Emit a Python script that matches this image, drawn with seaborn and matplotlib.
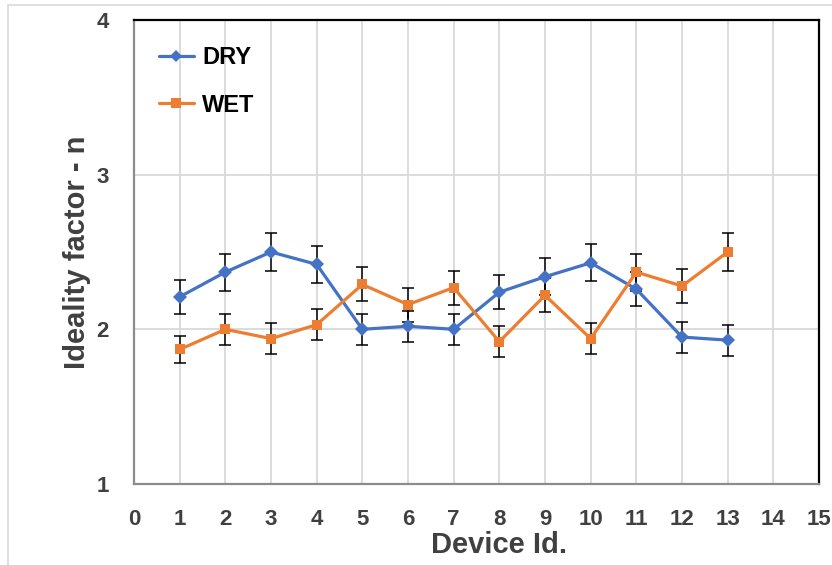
import matplotlib
matplotlib.use("Agg")
import matplotlib.pyplot as plt
from matplotlib.patches import Rectangle
import numpy as np
import pandas as pd
import seaborn as sns

# Ideality factor per device, measured dry and wet
device_ids = [1, 2, 3, 4, 5, 6, 7, 8, 9, 10, 11, 12, 13]
dry_n = [2.21, 2.37, 2.50, 2.42, 2.00, 2.02, 2.00, 2.24, 2.34, 2.43, 2.26, 1.95, 1.93]
wet_n = [1.87, 2.00, 1.94, 2.03, 2.29, 2.16, 2.27, 1.92, 2.22, 1.94, 2.37, 2.28, 2.50]
dry_err = [0.11, 0.12, 0.125, 0.12, 0.10, 0.10, 0.10, 0.11, 0.12, 0.12, 0.11, 0.10, 0.10]
wet_err = [0.09, 0.10, 0.10, 0.10, 0.11, 0.11, 0.11, 0.10, 0.11, 0.10, 0.12, 0.11, 0.125]
series_names = ["DRY", "WET"]
x_ticks = list(range(0, 16))
y_ticks = [1, 2, 3, 4]

BLUE = "#4472C4"
ORANGE = "#ED7D31"
TEXT = "#404040"

sns.set_theme(style="white")
plt.rcParams["font.family"] = ["Liberation Sans", "DejaVu Sans"]

df = pd.DataFrame({
    "Device": device_ids * 2,
    "n": dry_n + wet_n,
    "Condition": [series_names[0]] * len(device_ids) + [series_names[1]] * len(device_ids),
})

fig = plt.figure(figsize=(8.32, 5.65), dpi=100)
ax = fig.add_axes([134 / 832, 1 - 484 / 565, (819 - 134) / 832, (484 - 20) / 565])

# light outer frame of the figure
fig.patches.append(Rectangle((8 / 832, -0.1), 1.2, 1 - 5 / 565 + 0.1, transform=fig.transFigure,
                             fill=False, edgecolor="#d9d9d9", linewidth=1.2, zorder=0))

# error bars sit underneath the lines and markers
ax.errorbar(device_ids, dry_n, yerr=dry_err, fmt="none", ecolor="black",
            elinewidth=1.1, capsize=4.5, capthick=1.1, zorder=2)
ax.errorbar(device_ids, wet_n, yerr=wet_err, fmt="none", ecolor="black",
            elinewidth=1.1, capsize=4.5, capthick=1.1, zorder=2)

sns.lineplot(data=df, x="Device", y="n", hue="Condition", style="Condition",
             palette={"DRY": BLUE, "WET": ORANGE},
             markers={"DRY": "D", "WET": "s"}, dashes=False,
             linewidth=2.3, markersize=7.5, markeredgewidth=0,
             ax=ax, zorder=3, legend=False)

ax.set_xlim(0, 15)
ax.set_ylim(1, 4)
ax.set_xticks(x_ticks)
ax.set_yticks(y_ticks)
ax.set_xticklabels([str(t) for t in x_ticks], fontsize=16, fontweight="bold", color=TEXT)
ax.set_yticklabels([str(t) for t in y_ticks], fontsize=16, fontweight="bold", color=TEXT)
ax.tick_params(axis="both", length=0)
ax.tick_params(axis="x", pad=18)
ax.tick_params(axis="y", pad=18)

ax.grid(True, color="#d9d9d9", linewidth=1.3, zorder=0)
ax.set_axisbelow(True)

for side in ["top", "right"]:
    ax.spines[side].set_color("black")
    ax.spines[side].set_linewidth(1.6)
for side in ["left", "bottom"]:
    ax.spines[side].set_color("#8c8c8c")
    ax.spines[side].set_linewidth(1.6)

ax.set_xlabel("Device Id.", fontsize=21, fontweight="bold", color=TEXT)
ax.xaxis.set_label_coords((499.5 - 134) / 685, -(545 - 484) / 464, transform=ax.transAxes)
ax.xaxis.label.set_va("center")
ax.set_ylabel("Ideality factor - n", fontsize=21, fontweight="bold", color=TEXT, labelpad=4)

handles = [
    plt.Line2D([], [], color=BLUE, marker="D", markersize=6.5, linewidth=2.3, markeredgewidth=0),
    plt.Line2D([], [], color=ORANGE, marker="s", markersize=6.5, linewidth=2.3, markeredgewidth=0),
]
leg = ax.legend(handles, series_names, loc="upper left", bbox_to_anchor=(-0.002, 1.0),
                frameon=False, prop={"weight": "bold", "size": 17},
                handlelength=1.5, handletextpad=0.35, labelspacing=1.05,
                borderaxespad=0.6, borderpad=0.5)
for t in leg.get_texts():
    t.set_color("black")

fig.savefig("out.png", dpi=100, facecolor="white")
